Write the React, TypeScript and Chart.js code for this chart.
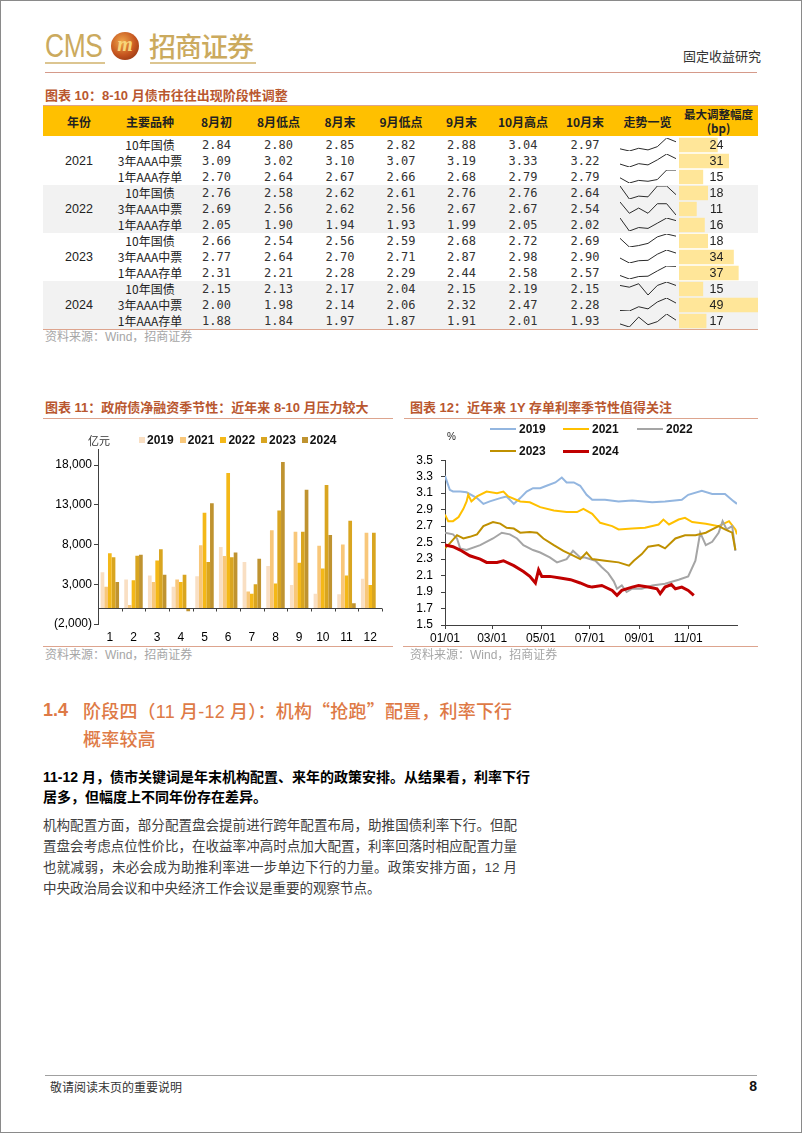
import React, { useEffect, useRef } from "react";
import { Chart, registerables } from "chart.js";

Chart.register(...registerables);

// ---------------- 图表10 表格数据 ----------------
const tableYears = ["2021", "2022", "2023", "2024"];
const tableProducts = ["10年国债", "3年AAA中票", "1年AAA存单"];
const tableColumns = ["8月初", "8月低点", "8月末", "9月低点", "9月末", "10月高点", "10月末"];
const rates2021 = [
  [2.84, 2.8, 2.85, 2.82, 2.88, 3.04, 2.97],
  [3.09, 3.02, 3.1, 3.07, 3.19, 3.33, 3.22],
  [2.7, 2.64, 2.67, 2.66, 2.68, 2.79, 2.79],
];
const rates2022 = [
  [2.76, 2.58, 2.62, 2.61, 2.76, 2.76, 2.64],
  [2.69, 2.56, 2.62, 2.56, 2.67, 2.67, 2.54],
  [2.05, 1.9, 1.94, 1.93, 1.99, 2.05, 2.02],
];
const rates2023 = [
  [2.66, 2.54, 2.56, 2.59, 2.68, 2.72, 2.69],
  [2.77, 2.64, 2.7, 2.71, 2.87, 2.98, 2.9],
  [2.31, 2.21, 2.28, 2.29, 2.44, 2.58, 2.57],
];
const rates2024 = [
  [2.15, 2.13, 2.17, 2.04, 2.15, 2.19, 2.15],
  [2.0, 1.98, 2.14, 2.06, 2.32, 2.47, 2.28],
  [1.88, 1.84, 1.97, 1.87, 1.91, 2.01, 1.93],
];
const maxAdjustBp = [24, 31, 15, 18, 11, 16, 18, 34, 37, 15, 49, 17];

// ---------------- 图表11 政府债净融资 ----------------
const monthLabels = ["1", "2", "3", "4", "5", "6", "7", "8", "9", "10", "11", "12"];
const finYears = ["2019", "2021", "2022", "2023", "2024"];
const netFin2019 = [4500, 3600, 4100, 2700, 4000, 7700, 5800, 5300, 2900, 1800, 1750, 3700];
const netFin2021 = [2700, 400, 3300, 3600, 7900, 6550, 2100, 9800, 9600, 7850, 8000, 9500];
const netFin2022 = [6900, 3500, 6000, 3300, 12000, 17000, 1800, 3100, 5700, 5000, 4100, 2900];
const netFin2023 = [6400, 6600, 7400, 4200, 5800, 6400, 3000, 12300, 9600, 15500, 11000, 9500];
const netFin2024 = [3300, 6700, 4200, -400, 13200, 7000, 6200, 18400, 14900, 9200, 600, null];
const finTicks = [-2000, 3000, 8000, 13000, 18000];
const finColors = ["#F9DFC3", "#F8C77A", "#F4B818", "#D9A520", "#BF9330"];

// ---------------- 图表12 1Y存单利率 ----------------
const ncdYears = ["2019", "2021", "2022", "2023", "2024"];
const ncdDays2019 = [0, 6, 10, 19, 27, 40, 48, 56, 69, 77, 83, 86, 94, 102, 110, 119, 127, 138, 146, 152, 161, 169, 177, 184, 200, 217, 234, 259, 275, 296, 304, 321, 334, 350, 361, 365];
const ncd2019 = [3.31, 3.14, 3.12, 3.12, 3.11, 3.04, 2.97, 3.0, 3.04, 3.06, 3.0, 2.97, 3.04, 3.12, 3.16, 3.16, 3.19, 3.23, 3.29, 3.23, 3.23, 3.19, 3.08, 3.02, 3.02, 3.0, 3.01, 2.99, 3.0, 3.02, 3.08, 3.13, 3.09, 3.09, 3.0, 2.97];
const ncdDays2021 = [0, 4, 10, 17, 23, 27, 29, 33, 40, 52, 65, 73, 79, 94, 106, 119, 136, 152, 165, 173, 184, 194, 209, 217, 234, 250, 267, 273, 280, 292, 300, 309, 326, 342, 355, 363, 365];
const ncd2021 = [2.84, 2.76, 2.76, 2.81, 2.91, 3.0, 3.08, 3.0, 3.06, 3.12, 3.1, 3.12, 3.06, 3.0, 2.99, 2.93, 2.89, 2.87, 2.87, 2.91, 2.85, 2.74, 2.7, 2.66, 2.67, 2.68, 2.72, 2.78, 2.72, 2.78, 2.8, 2.75, 2.73, 2.7, 2.76, 2.66, 2.6];
const ncdDays2022 = [0, 10, 15, 19, 27, 44, 60, 71, 81, 90, 98, 110, 119, 131, 140, 152, 160, 169, 175, 188, 196, 204, 211, 215, 221, 227, 234, 246, 259, 275, 292, 304, 313, 319, 326, 334, 342, 347, 352, 359, 363];
const ncd2022 = [2.62, 2.6, 2.55, 2.43, 2.41, 2.47, 2.55, 2.62, 2.6, 2.55, 2.47, 2.41, 2.38, 2.32, 2.26, 2.3, 2.4, 2.32, 2.32, 2.28, 2.2, 2.13, 2.03, 1.94, 1.98, 1.9, 1.94, 1.94, 1.98, 2.0, 2.05, 2.09, 2.28, 2.62, 2.47, 2.51, 2.62, 2.76, 2.66, 2.7, 2.4];
const ncdDays2023 = [0, 6, 15, 23, 31, 40, 48, 60, 69, 77, 86, 94, 106, 115, 123, 136, 148, 161, 169, 177, 184, 200, 217, 230, 236, 246, 254, 267, 275, 288, 300, 313, 326, 334, 342, 350, 359, 363];
const ncd2023 = [2.43, 2.49, 2.59, 2.55, 2.57, 2.6, 2.7, 2.75, 2.73, 2.68, 2.67, 2.62, 2.63, 2.62, 2.55, 2.47, 2.4, 2.34, 2.3, 2.38, 2.3, 2.28, 2.26, 2.22, 2.28, 2.36, 2.45, 2.47, 2.43, 2.55, 2.59, 2.59, 2.62, 2.66, 2.7, 2.66, 2.62, 2.41];
const ncdDays2024 = [0, 10, 19, 31, 44, 52, 65, 73, 86, 98, 106, 113, 117, 121, 131, 144, 157, 169, 179, 184, 196, 209, 215, 221, 234, 242, 254, 265, 269, 275, 283, 288, 296, 304, 311];
const ncd2024 = [2.47, 2.45, 2.41, 2.34, 2.3, 2.26, 2.26, 2.28, 2.22, 2.15, 2.09, 2.01, 2.17, 2.09, 2.09, 2.07, 2.05, 2.01, 1.97, 1.96, 1.98, 1.92, 1.86, 1.92, 1.96, 1.98, 1.96, 1.94, 1.88, 1.96, 1.99, 1.94, 1.96, 1.92, 1.86];
const ncdColors = ["#93B6E0", "#FFC000", "#A5A5A5", "#BF9000", "#C00000"];
const ncdWidths = [2, 2, 2, 2, 3];
const monthTickDays = [0, 59, 120, 181, 243, 304];
const monthTickLabels = ["01/01", "03/01", "05/01", "07/01", "09/01", "11/01"];
const ncdYTicks = [1.5, 1.7, 1.9, 2.1, 2.3, 2.5, 2.7, 2.9, 3.1, 3.3, 3.5];

// ---------------- styling constants ----------------
const FONT_MIX = '"Liberation Sans", "Noto Sans CJK SC", sans-serif';
const FONT_CN = '"Noto Sans CJK SC", "Liberation Sans", sans-serif';
const TITLE_COLOR = "#B9572F";
const RULE_COLOR = "#DDA48E";
const GOLD = "#CBAA5E";

const colBounds = [43, 115, 185, 248, 309, 371, 431, 492, 554, 616, 679, 758];
const ROW0 = 137;
const ROWH = 16;

function Txt({ x, cy, size, lh, children, style }: any) {
  const h = lh ?? Math.round(size * 1.4);
  return (
    <div
      style={{
        position: "absolute",
        left: x,
        top: cy - h / 2,
        height: h,
        lineHeight: `${h}px`,
        fontSize: size,
        whiteSpace: "nowrap",
        ...style,
      }}
    >
      {children}
    </div>
  );
}

function HLine({ x1, x2, y, color, w }: any) {
  return <div style={{ position: "absolute", left: x1, top: y, width: x2 - x1, height: w ?? 1, background: color }} />;
}

function Sparkline({ values, left, top, width, height }: any) {
  const ref = useRef<HTMLCanvasElement>(null);
  useEffect(() => {
    const lo = Math.min(...values);
    const hi = Math.max(...values);
    const chart = new Chart(ref.current!, {
      type: "line",
      data: {
        labels: values.map((_: number, i: number) => String(i)),
        datasets: [{ data: values, borderColor: "#2b2b2b", borderWidth: 1, pointRadius: 0, tension: 0, fill: false }],
      },
      options: {
        responsive: false,
        animation: false,
        events: [],
        layout: { padding: { top: 1, bottom: 2, left: 0, right: 0 } },
        plugins: { legend: { display: false }, tooltip: { enabled: false } },
        scales: { x: { display: false }, y: { display: false, min: lo, max: hi } },
      },
    } as any);
    return () => chart.destroy();
  }, []);
  return <canvas ref={ref} width={width} height={height} style={{ position: "absolute", left, top, width, height }} />;
}

function AdjustBars() {
  const ref = useRef<HTMLCanvasElement>(null);
  useEffect(() => {
    const chart = new Chart(ref.current!, {
      type: "bar",
      data: {
        labels: maxAdjustBp.map((_, i) => String(i)),
        datasets: [{ data: maxAdjustBp, backgroundColor: "#FFE699", borderWidth: 0, barPercentage: 0.9, categoryPercentage: 1 }],
      },
      options: {
        indexAxis: "y",
        responsive: false,
        animation: false,
        events: [],
        layout: { padding: 0 },
        plugins: { legend: { display: false }, tooltip: { enabled: false } },
        scales: { x: { display: false, min: 0, max: 49 }, y: { display: false } },
      },
    } as any);
    return () => chart.destroy();
  }, []);
  const w = colBounds[11] - colBounds[10];
  const h = ROWH * 12;
  return (
    <canvas
      ref={ref}
      width={w}
      height={h}
      style={{ position: "absolute", left: colBounds[10], top: ROW0, width: w, height: h, zIndex: 1 }}
    />
  );
}

const zeroLinePlugin = {
  id: "zeroLine",
  afterDatasetsDraw(chart: any) {
    const { ctx, scales } = chart;
    const xs = scales.x;
    const y = Math.round(scales.y.getPixelForValue(0)) + 0.5;
    const n = chart.data.labels.length;
    ctx.save();
    ctx.strokeStyle = "#404040";
    ctx.lineWidth = 1;
    ctx.beginPath();
    ctx.moveTo(xs.left, y);
    ctx.lineTo(xs.right, y);
    for (let i = 0; i <= n; i++) {
      const x = Math.round(xs.left + ((xs.right - xs.left) * i) / n) + 0.5;
      ctx.moveTo(x, y);
      ctx.lineTo(x, y + 3);
    }
    ctx.stroke();
    ctx.restore();
  },
};

function fmtThousands(v: number) {
  const s = Math.abs(v).toLocaleString("en-US");
  return v < 0 ? `(${s})` : s;
}

function NetFinancingChart() {
  const ref = useRef<HTMLCanvasElement>(null);
  useEffect(() => {
    const series = [netFin2019, netFin2021, netFin2022, netFin2023, netFin2024];
    const chart = new Chart(ref.current!, {
      type: "bar",
      data: {
        labels: monthLabels,
        datasets: finYears.map((yr, i) => ({
          label: yr,
          data: series[i],
          backgroundColor: finColors[i],
          borderWidth: 0,
          barPercentage: 1,
          categoryPercentage: 0.78,
        })),
      },
      options: {
        responsive: false,
        animation: false,
        events: [],
        layout: { padding: { top: 7, right: 13, left: 0, bottom: 0 } },
        plugins: { legend: { display: false }, tooltip: { enabled: false } },
        scales: {
          x: {
            grid: { display: false, drawTicks: false },
            border: { display: false },
            ticks: { color: "#000", font: { family: "Liberation Sans", size: 12 }, padding: 6, maxRotation: 0, autoSkip: false },
            afterFit: (s: any) => {
              s.height = 22;
            },
          },
          y: {
            min: -2000,
            max: 20000,
            afterBuildTicks: (s: any) => {
              s.ticks = finTicks.map((v) => ({ value: v }));
            },
            grid: { drawOnChartArea: false, drawTicks: true, tickLength: 4, color: "#404040" },
            border: { display: true, color: "#404040", width: 1 },
            ticks: {
              color: "#000",
              font: { family: "Liberation Sans", size: 12 },
              padding: 2,
              autoSkip: false,
              callback: (v: any) => fmtThousands(Number(v)),
            },
            afterFit: (s: any) => {
              s.width = 53;
            },
          },
        },
      },
      plugins: [zeroLinePlugin],
    } as any);
    return () => chart.destroy();
  }, []);
  return (
    <canvas ref={ref} width={350} height={206} style={{ position: "absolute", left: 45, top: 440, width: 350, height: 206 }} />
  );
}

function NcdChart() {
  const ref = useRef<HTMLCanvasElement>(null);
  useEffect(() => {
    const days = [ncdDays2019, ncdDays2021, ncdDays2022, ncdDays2023, ncdDays2024];
    const vals = [ncd2019, ncd2021, ncd2022, ncd2023, ncd2024];
    const chart = new Chart(ref.current!, {
      type: "line",
      data: {
        datasets: ncdYears.map((yr, i) => ({
          label: yr,
          data: days[i].map((d, j) => ({ x: d, y: vals[i][j] })),
          borderColor: ncdColors[i],
          borderWidth: ncdWidths[i],
          pointRadius: 0,
          tension: 0,
          fill: false,
          order: 5 - i,
        })),
      },
      options: {
        responsive: false,
        animation: false,
        events: [],
        layout: { padding: { top: 5, right: 18, left: 0, bottom: 0 } },
        plugins: { legend: { display: false }, tooltip: { enabled: false } },
        scales: {
          x: {
            type: "linear",
            min: 0,
            max: 365,
            afterBuildTicks: (s: any) => {
              s.ticks = monthTickDays.map((v) => ({ value: v }));
            },
            grid: { drawOnChartArea: false, drawTicks: true, tickLength: 4, color: "#404040" },
            border: { display: true, color: "#404040", width: 1 },
            ticks: {
              color: "#000",
              font: { family: "Liberation Sans", size: 12 },
              padding: 2,
              maxRotation: 0,
              autoSkip: false,
              callback: (_v: any, i: number) => monthTickLabels[i],
            },
            afterFit: (s: any) => {
              s.height = 22;
            },
          },
          y: {
            min: 1.5,
            max: 3.5,
            afterBuildTicks: (s: any) => {
              s.ticks = ncdYTicks.map((v) => ({ value: v }));
            },
            grid: { drawOnChartArea: false, drawTicks: true, tickLength: 4, color: "#404040" },
            border: { display: true, color: "#404040", width: 1 },
            ticks: {
              color: "#000",
              font: { family: "Liberation Sans", size: 12 },
              padding: 8,
              autoSkip: false,
              callback: (v: any) => Number(v).toFixed(1),
            },
            afterFit: (s: any) => {
              s.width = 40;
            },
          },
        },
      },
    } as any);
    return () => chart.destroy();
  }, []);
  return (
    <canvas ref={ref} width={350} height={202} style={{ position: "absolute", left: 405, top: 445, width: 350, height: 202 }} />
  );
}

function JLine({ x, cy, w, size, lh, text, bold, color, justify }: any) {
  return (
    <div
      style={{
        position: "absolute",
        left: x,
        top: cy - lh / 2,
        width: w,
        height: lh,
        lineHeight: `${lh}px`,
        fontSize: size,
        fontWeight: bold ? 700 : 400,
        color,
        whiteSpace: "nowrap",
        textAlign: justify ? "justify" : "left",
        textAlignLast: justify ? "justify" : "left",
        fontFamily: FONT_MIX,
      } as any}
    >
      {text}
    </div>
  );
}

export default function App() {
  const allRows = [...rates2021, ...rates2022, ...rates2023, ...rates2024];
  const headers = ["年份", "主要品种", ...tableColumns, "走势一览"];
  const legend12Pos = [
    { x: 490, cy: 429 },
    { x: 563, cy: 429 },
    { x: 637, cy: 429 },
    { x: 490, cy: 451 },
    { x: 563, cy: 451 },
  ];
  return (
    <div
      style={{
        position: "absolute",
        left: 0,
        top: 0,
        width: 802,
        height: 1133,
        background: "#fff",
        overflow: "hidden",
        fontFamily: FONT_MIX,
        color: "#222",
      }}
    >
      {/* page frame */}
      <div style={{ position: "absolute", left: 0, top: 0, width: 802, height: 1133, boxSizing: "border-box", border: "1px solid #8a8a8a", zIndex: 5, pointerEvents: "none" }} />

      {/* ---------- header ---------- */}
      <div
        style={{
          position: "absolute",
          left: 45,
          top: 28,
          fontSize: 33,
          lineHeight: "36px",
          color: GOLD,
          fontFamily: '"Liberation Sans", sans-serif',
          transform: "scaleX(0.8)",
          transformOrigin: "left top",
          letterSpacing: -0.5,
        }}
      >
        CMS
      </div>
      <div
        style={{
          position: "absolute",
          left: 111,
          top: 32,
          width: 28,
          height: 28,
          borderRadius: "50%",
          background: "radial-gradient(circle at 40% 35%, #F0A64A 0%, #C4531E 55%, #7C2A0E 100%)",
          color: "#F7D57A",
          fontSize: 20,
          fontWeight: 700,
          fontStyle: "italic",
          textAlign: "center",
          lineHeight: "24px",
          fontFamily: '"Liberation Serif", serif',
        }}
      >
        m
      </div>
      <Txt x={149} cy={46} size={27} lh={34} style={{ color: GOLD, fontFamily: FONT_CN, fontWeight: 500, letterSpacing: -1 }}>
        招商证券
      </Txt>
      <HLine x1={45} x2={105} y={62} color="#DCC590" w={2} />
      <HLine x1={150} x2={256} y={62} color="#DCC590" w={2} />
      <Txt x={683} cy={56} size={13} style={{ color: "#333", fontFamily: FONT_CN }}>
        固定收益研究
      </Txt>
      <HLine x1={45} x2={757} y={72} color="#D59A8A" />

      {/* ---------- 图表10 ---------- */}
      <Txt x={45} cy={96} size={13} style={{ color: TITLE_COLOR, fontWeight: 700 }}>
        图表 10：8-10 月债市往往出现阶段性调整
      </Txt>
      <HLine x1={43} x2={758} y={105} color={RULE_COLOR} />
      <div style={{ position: "absolute", left: 43, top: 106, width: 715, height: 30, background: "#FFC000" }} />
      {headers.map((h, c) => (
        <Txt
          key={"h" + c}
          x={colBounds[c]}
          cy={122}
          size={12}
          lh={16}
          style={{ width: colBounds[c + 1] - colBounds[c], textAlign: "center", fontWeight: 700, color: "#222", fontFamily: FONT_CN }}
        >
          {h}
        </Txt>
      ))}
      <Txt x={colBounds[10]} cy={114.5} size={11.5} lh={13} style={{ width: colBounds[11] - colBounds[10], textAlign: "center", fontWeight: 700, color: "#222", fontFamily: FONT_CN }}>
        最大调整幅度
      </Txt>
      <Txt x={colBounds[10]} cy={128.5} size={11.5} lh={13} style={{ width: colBounds[11] - colBounds[10], textAlign: "center", fontWeight: 700, color: "#222", fontFamily: FONT_CN }}>
        (bp)
      </Txt>
      {tableYears.map((yr, g) =>
        g % 2 === 1 ? (
          <div key={"band" + g} style={{ position: "absolute", left: 43, top: ROW0 + g * 3 * ROWH, width: 715, height: 3 * ROWH, background: "#F2F2F2" }} />
        ) : null
      )}
      {tableYears.map((yr, g) => (
        <Txt
          key={"y" + g}
          x={colBounds[0]}
          cy={ROW0 + (g * 3 + 1) * ROWH + ROWH / 2}
          size={12.5}
          lh={16}
          style={{ width: colBounds[1] - colBounds[0], textAlign: "center", color: "#222" }}
        >
          {yr}
        </Txt>
      ))}
      {allRows.map((row, r) => (
        <React.Fragment key={"r" + r}>
          <Txt
            x={colBounds[1]}
            cy={ROW0 + r * ROWH + ROWH / 2}
            size={12}
            lh={16}
            style={{ width: colBounds[2] - colBounds[1], textAlign: "center", color: "#222", fontFamily: FONT_CN }}
          >
            {tableProducts[r % 3]}
          </Txt>
          {row.map((v, c) => (
            <Txt
              key={"c" + c}
              x={colBounds[c + 2]}
              cy={ROW0 + r * ROWH + ROWH / 2}
              size={12}
              lh={16}
              style={{ width: colBounds[c + 3] - colBounds[c + 2], textAlign: "center", color: "#333", fontFamily: '"DejaVu Sans Mono", monospace' }}
            >
              {v.toFixed(2)}
            </Txt>
          ))}
          <Sparkline values={row} left={620} top={ROW0 + r * ROWH} width={56} height={16} />
          <Txt
            x={colBounds[10]}
            cy={ROW0 + r * ROWH + ROWH / 2}
            size={12.5}
            lh={16}
            style={{ width: colBounds[11] - colBounds[10] - 4, textAlign: "center", color: "#222", zIndex: 2 }}
          >
            {maxAdjustBp[r]}
          </Txt>
        </React.Fragment>
      ))}
      <AdjustBars />
      <HLine x1={43} x2={758} y={329} color={RULE_COLOR} />
      <Txt x={45} cy={337} size={12} style={{ color: "#A6A6A6" }}>
        资料来源：Wind，招商证券
      </Txt>

      {/* ---------- 图表11 ---------- */}
      <Txt x={45} cy={408} size={13} style={{ color: TITLE_COLOR, fontWeight: 700 }}>
        图表 11：政府债净融资季节性：近年来 8-10 月压力较大
      </Txt>
      <HLine x1={43} x2={393} y={418} color={RULE_COLOR} />
      <NetFinancingChart />
      <Txt x={88} cy={440} size={11} style={{ color: "#333", fontFamily: FONT_CN }}>
        亿元
      </Txt>
      <div style={{ position: "absolute", left: 139, top: 432, height: 16, display: "flex", alignItems: "center" }}>
        {finYears.map((yr, i) => (
          <div key={yr} style={{ display: "flex", alignItems: "center", marginRight: 6 }}>
            <div style={{ width: 6, height: 6, background: finColors[i], marginRight: 2 }} />
            <span style={{ fontSize: 12, fontWeight: 700, color: "#111", fontFamily: "Liberation Sans" }}>{yr}</span>
          </div>
        ))}
      </div>
      <HLine x1={43} x2={393} y={646} color={RULE_COLOR} />
      <Txt x={45} cy={655} size={12} style={{ color: "#A6A6A6" }}>
        资料来源：Wind，招商证券
      </Txt>

      {/* ---------- 图表12 ---------- */}
      <Txt x={410} cy={408} size={13} style={{ color: TITLE_COLOR, fontWeight: 700 }}>
        图表 12：近年来 1Y 存单利率季节性值得关注
      </Txt>
      <HLine x1={404} x2={758} y={418} color={RULE_COLOR} />
      <NcdChart />
      <Txt x={447} cy={437} size={10} style={{ color: "#222" }}>
        %
      </Txt>
      {ncdYears.map((yr, i) => (
        <div
          key={"lg" + yr}
          style={{ position: "absolute", left: legend12Pos[i].x, top: legend12Pos[i].cy - 8, height: 16, display: "flex", alignItems: "center", zIndex: 3 }}
        >
          <div style={{ width: 26, height: ncdWidths[i], background: ncdColors[i], marginRight: 3 }} />
          <span style={{ fontSize: 12, fontWeight: 700, color: "#111", fontFamily: "Liberation Sans" }}>{yr}</span>
        </div>
      ))}
      <HLine x1={403} x2={758} y={646} color={RULE_COLOR} />
      <Txt x={410} cy={655} size={12} style={{ color: "#A6A6A6" }}>
        资料来源：Wind，招商证券
      </Txt>

      {/* ---------- 1.4 section ---------- */}
      <Txt x={43} cy={710} size={18} lh={26} style={{ color: "#DE7A46", fontWeight: 700 }}>
        1.4
      </Txt>
      <Txt x={83} cy={710} size={18} lh={26} style={{ color: "#DE7A46", fontWeight: 500, letterSpacing: 0.2 }}>
        阶段四（11 月-12 月）：机构<span style={{ fontFamily: FONT_CN }}>“抢跑”</span>配置，利率下行
      </Txt>
      <Txt x={83} cy={740} size={18} lh={26} style={{ color: "#DE7A46", fontWeight: 500, letterSpacing: 0.2 }}>
        概率较高
      </Txt>
      <JLine x={43} cy={777} w={474} size={14} lh={20} bold color="#000" justify text="11-12 月，债市关键词是年末机构配置、来年的政策安排。从结果看，利率下行" />
      <JLine x={43} cy={797} w={474} size={14} lh={20} bold color="#000" text="居多，但幅度上不同年份存在差异。" />
      <JLine x={43} cy={825} w={474} size={13.5} lh={21} color="#404040" justify text="机构配置方面，部分配置盘会提前进行跨年配置布局，助推国债利率下行。但配" />
      <JLine x={43} cy={846} w={474} size={13.5} lh={21} color="#404040" justify text="置盘会考虑点位性价比，在收益率冲高时点加大配置，利率回落时相应配置力量" />
      <JLine x={43} cy={867} w={474} size={13.5} lh={21} color="#404040" justify text="也就减弱，未必会成为助推利率进一步单边下行的力量。政策安排方面，12 月" />
      <JLine x={43} cy={888} w={474} size={13.5} lh={21} color="#404040" text="中央政治局会议和中央经济工作会议是重要的观察节点。" />

      {/* ---------- footer ---------- */}
      <HLine x1={45} x2={757} y={1075} color="#A0A0A0" />
      <Txt x={50} cy={1086} size={12} style={{ color: "#333", fontFamily: FONT_CN }}>
        敬请阅读末页的重要说明
      </Txt>
      <Txt x={700} cy={1086} size={14} style={{ width: 57, textAlign: "right", fontWeight: 700, color: "#111" }}>
        8
      </Txt>
    </div>
  );
}
